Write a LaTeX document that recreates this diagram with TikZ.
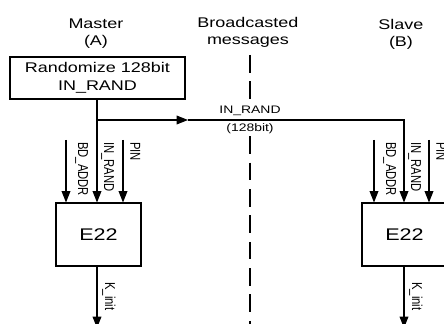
\documentclass[tikz,border=0pt]{standalone}
\usepackage{fontspec}
\setmainfont{Liberation Sans}[FakeStretch=1.28]
\newfontfamily\rotfont{Liberation Sans}
\usetikzlibrary{arrows.meta}
\begin{document}
\begin{tikzpicture}[x=0.02cm, y=0.02cm,
    titulo/.style={align=center, inner sep=0pt, font=\fontsize{8}{9.7}\selectfont},
    caja/.style={draw, line width=0.6pt, align=center, inner sep=0pt},
    linea/.style={line width=0.6pt},
    flecha/.style={line width=0.6pt, -{Triangle[length=6.5pt, width=5pt]}},
    corte/.style={line width=1.7pt, dash pattern=on 10pt off 5pt},
    mensaje/.style={inner sep=1pt, font=\fontsize{6.2}{7}\selectfont},
    rotulo/.style={rotate=-90, anchor=south west, inner sep=0pt, font=\rotfont\fontsize{6.4}{7}\selectfont}]
    \useasboundingbox (0,0) rectangle (444,324);
    \clip (0,0) rectangle (444,324);
    % Titulos
    \node[titulo] (master) at (96,290) {Master\\(A)};
    \node[titulo] (medio) at (248,292) {Broadcasted\\messages};
    \node[titulo] (slave) at (401,290) {Slave\\(B)};
    % Cajas
    \node[caja, minimum width=3.5cm, minimum height=0.84cm, font=\fontsize{8}{10.2}\selectfont] (rand) at (97.5,246) {Randomize 128bit\\IN\_RAND};
    \node[caja, minimum width=1.7cm, minimum height=1.26cm, font=\fontsize{9.6}{11}\selectfont] (e22a) at (98.5,89.5) {E22};
    \node[caja, minimum width=1.7cm, minimum height=1.26cm, font=\fontsize{9.6}{11}\selectfont] (e22b) at (404.5,89.5) {E22};
    % Mensaje difundido
    \node[mensaje, anchor=south] (msg1) at (250,206) {IN\_RAND};
    \node[mensaje, anchor=north] (msg2) at (250,202) {(128bit)};
    \coordinate (ctop) at (250,269);
    \coordinate (cbot) at (250,0);
    \draw[corte] (ctop) -- (msg1.north);
    \draw[corte] (msg2.south) -- (cbot);
    % IN_RAND hacia A y B
    \coordinate (split) at (97,204);
    \coordinate (punta) at (188,204);
    \coordinate (esquina) at (404,204);
    \draw[linea] (split |- rand.south) -- (split);
    \draw[flecha] (split) -- (split |- e22a.north);
    \draw[flecha] (split) -- (punta);
    \draw[flecha] (punta) -- (esquina) -- (esquina |- e22b.north);
    % Entradas de E22 en A
    \coordinate (bda) at (66,184);
    \coordinate (pina) at (123,184);
    \draw[flecha] (bda) -- (bda |- e22a.north);
    \draw[flecha] (pina) -- (pina |- e22a.north);
    \node[rotulo] (lbda) at (75,182) {\scalebox{1}[1.28]{BD\_ADDR}};
    \node[rotulo] (lra) at (101,182) {\scalebox{1}[1.28]{IN\_RAND}};
    \node[rotulo] (lpa) at (130,182) {\scalebox{1}[1.28]{PIN}};
    % Entradas de E22 en B
    \coordinate (bdb) at (374,184);
    \coordinate (pinb) at (429,184);
    \draw[flecha] (bdb) -- (bdb |- e22b.north);
    \draw[flecha] (pinb) -- (pinb |- e22b.north);
    \node[rotulo] (lbdb) at (383,182) {\scalebox{1}[1.28]{BD\_ADDR}};
    \node[rotulo] (lrb) at (408,182) {\scalebox{1}[1.28]{IN\_RAND}};
    \node[rotulo] (lpb) at (436,182) {\scalebox{1}[1.28]{PIN}};
    % Salidas K_init
    \coordinate (ka) at (97,-4);
    \coordinate (kb) at (404,-4);
    \draw[flecha] (e22a.south -| ka) -- (ka);
    \draw[flecha] (e22b.south -| kb) -- (kb);
    \node[rotulo] (lka) at (102,42) {\scalebox{1}[1.28]{K\_init}};
    \node[rotulo] (lkb) at (409,42) {\scalebox{1}[1.28]{K\_init}};
\end{tikzpicture}
\end{document}
